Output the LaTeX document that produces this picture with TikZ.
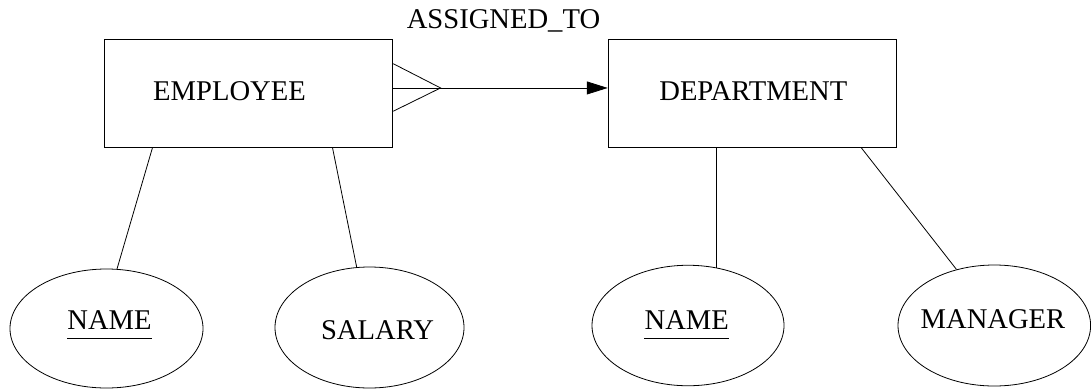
\documentclass[tikz,border=0pt]{standalone}
\usepackage{fontspec}
\setmainfont{Liberation Serif}
\usetikzlibrary{arrows.meta,shapes.geometric,calc}

\begin{document}
\begin{tikzpicture}[x=1pt,y=-1pt,
  entity/.style={draw,line width=1.1pt,rectangle,minimum width=288pt,
                 minimum height=107.6pt,inner sep=0pt},
  attr/.style={draw,line width=0.8pt,ellipse,inner sep=0pt},
  lbl/.style={anchor=base,inner sep=0pt,font=\fontsize{28.6}{34}\selectfont},
  link/.style={line width=0.8pt},
  keyline/.style={line width=1pt}]
\useasboundingbox (0,0) rectangle (1091,389);

% entities
\node[entity] (emp) at (248.7,93.5) {};
\node[entity,minimum width=288.4pt] (dept) at (752.5,93.5) {};

% attributes
\node[attr,minimum width=193pt,minimum height=119pt] (ename) at (106.5,328.5) {};
\node[attr,minimum width=189pt,minimum height=121pt] (esal) at (369.5,327.5) {};
\node[attr,minimum width=192pt,minimum height=120.5pt] (dname) at (688,325.5) {};
\node[attr,minimum width=192.6pt,minimum height=121pt] (dmgr) at (994.3,325.5) {};

% labels
\node[lbl] (temp) at (229.5,100) {EMPLOYEE};
\node[lbl] (tdept) at (753.3,100) {DEPARTMENT};
\node[lbl] (trel) at (503.5,28) {ASSIGNED\_TO};
\node[lbl] (tename) at (109.5,329) {NAME};
\node[lbl] (tsal) at (377.5,339.5) {SALARY};
\node[lbl] (tdname) at (686.7,329) {NAME};
\node[lbl] (tmgr) at (993,328.3) {MANAGER};

% key attributes are underlined
\draw[keyline] ($(tename.base west)+(0,9.5)$) -- ($(tename.base east)+(0,9.5)$);
\draw[keyline] ($(tdname.base west)+(0,9.5)$) -- ($(tdname.base east)+(0,9.5)$);

% relationship: many employees to one department
\coordinate (cfa) at ($(emp.north east)!0.226!(emp.south east)$);
\coordinate (cfm) at ($(emp.north east)!0.449!(emp.south east)$);
\coordinate (cfb) at ($(emp.north east)!0.663!(emp.south east)$);
\coordinate (cft) at ($(cfm)+(47.3,0)$);
\draw[link] (cfa) -- (cft) -- (cfb);
\draw[link,-{Triangle[length=21pt,width=13pt]}] (cfm) -- (cfm -| dept.west);

% attribute links
\draw[link] ($(emp.south west)!0.167!(emp.south east)$) -- (ename.80.6);
\draw[link] ($(emp.south west)!0.79!(emp.south east)$) -- (esal.102);
\coordinate (dn0) at ($(dept.south west)!0.376!(dept.south east)$);
\draw[link] (dn0) -- (dn0 |- dname.63.6);
\draw[link] ($(dept.south west)!0.876!(dept.south east)$) -- (dmgr.124);
\end{tikzpicture}
\end{document}
